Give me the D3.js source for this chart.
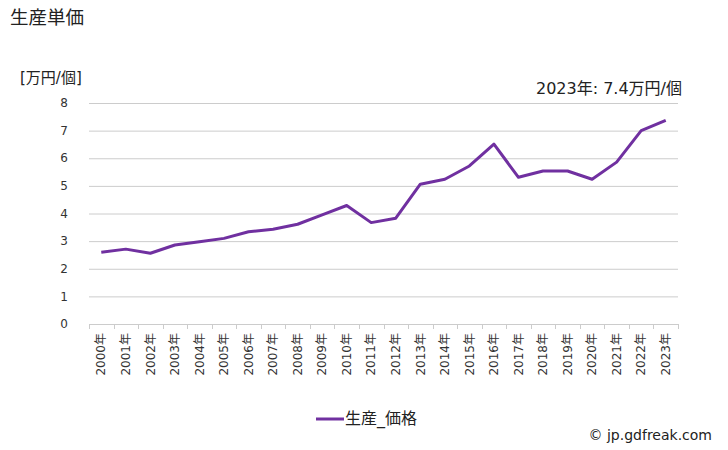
<!DOCTYPE html>
<html>
<head>
<meta charset="utf-8">
<script src="https://cdn.jsdelivr.net/npm/d3@7"></script>
<style>
  body { margin: 0; background: #fff; }
  svg { font-family: "DejaVu Sans", "Noto Sans CJK JP", sans-serif; }
</style>
</head>
<body>
<svg id="chart" width="728" height="450"></svg>
<script>
// data
const years = ['2000年','2001年','2002年','2003年','2004年','2005年','2006年','2007年',
  '2008年','2009年','2010年','2011年','2012年','2013年','2014年','2015年',
  '2016年','2017年','2018年','2019年','2020年','2021年','2022年','2023年']
const prices = [2.60, 2.71, 2.56, 2.86, 2.98, 3.10, 3.34, 3.43, 3.61, 3.95, 4.29, 3.67,
  3.83, 5.06, 5.24, 5.72, 6.51, 5.31, 5.54, 5.54, 5.24, 5.86, 7.00, 7.37]
const yTicks = [0, 1, 2, 3, 4, 5, 6, 7, 8]

const $svg = d3.select('#chart')
const MARGIN = { top: 103, right: 50, bottom: 126, left: 89 }
const width = 728, height = 450
const boundedWidth = width - MARGIN.left - MARGIN.right
const boundedHeight = height - MARGIN.top - MARGIN.bottom
const lineColor = '#7030a0'

const x = d3.scaleBand().domain(years).range([0, boundedWidth])
const y = d3.scaleLinear().domain([0, 8]).range([boundedHeight, 0])

const $g = $svg.append('g').attr('transform', `translate(${MARGIN.left}, ${MARGIN.top})`)

// grid
$g.selectAll('.grid')
  .data(yTicks)
  .enter()
  .append('line')
  .attr('x1', 0).attr('x2', boundedWidth)
  .attr('y1', d => y(d) + 0.5).attr('y2', d => y(d) + 0.5)
  .attr('stroke', '#cccccc')

// y labels
$g.selectAll('.ylab')
  .data(yTicks)
  .enter()
  .append('text')
  .attr('x', -21).attr('y', d => y(d))
  .attr('dy', '0.35em')
  .attr('text-anchor', 'end')
  .attr('font-size', 12)
  .attr('fill', '#333')
  .text(d => d)

// x ticks
const tickX = years.map(d => x(d)).concat([boundedWidth])
$g.selectAll('.xtick')
  .data(tickX)
  .enter()
  .append('line')
  .attr('x1', d => Math.round(d) + 0.5).attr('x2', d => Math.round(d) + 0.5)
  .attr('y1', boundedHeight).attr('y2', boundedHeight + 5)
  .attr('stroke', '#cccccc')

$g.selectAll('.xlab')
  .data(years)
  .enter()
  .append('text')
  .attr('transform', d => `translate(${x(d) + x.bandwidth() / 2}, ${boundedHeight + 9}) rotate(-90)`)
  .attr('text-anchor', 'end')
  .attr('dy', '0.35em')
  .attr('font-size', 12)
  .attr('fill', '#333')
  .text(d => d)

// line
const line = d3.line()
  .x((d, i) => x(years[i]) + x.bandwidth() / 2)
  .y(d => y(d))

$g.append('path')
  .datum(prices)
  .attr('d', line)
  .attr('fill', 'none')
  .attr('stroke', lineColor)
  .attr('stroke-width', 3)
  .attr('stroke-linejoin', 'round')

// texts
$svg.append('text').attr('x', 10).attr('y', 24)
  .attr('font-size', 18.5).attr('fill', '#222').text('生産単価')
$svg.append('text').attr('x', 20).attr('y', 83)
  .attr('font-size', 15).attr('fill', '#222').text('[万円/個]')
$svg.append('text').attr('x', 682).attr('y', 94)
  .attr('text-anchor', 'end')
  .attr('font-size', 16).attr('fill', '#222').text('2023年: 7.4万円/個')

// legend
$svg.append('line')
  .attr('x1', 316).attr('x2', 344).attr('y1', 419).attr('y2', 419)
  .attr('stroke', lineColor).attr('stroke-width', 3)
$svg.append('text').attr('x', 345).attr('y', 424)
  .attr('font-size', 16).attr('fill', '#222').text('生産_価格')

$svg.append('text').attr('x', 712).attr('y', 440)
  .attr('text-anchor', 'end')
  .attr('font-size', 14).attr('fill', '#222').text('© jp.gdfreak.com')
</script>
</body>
</html>
